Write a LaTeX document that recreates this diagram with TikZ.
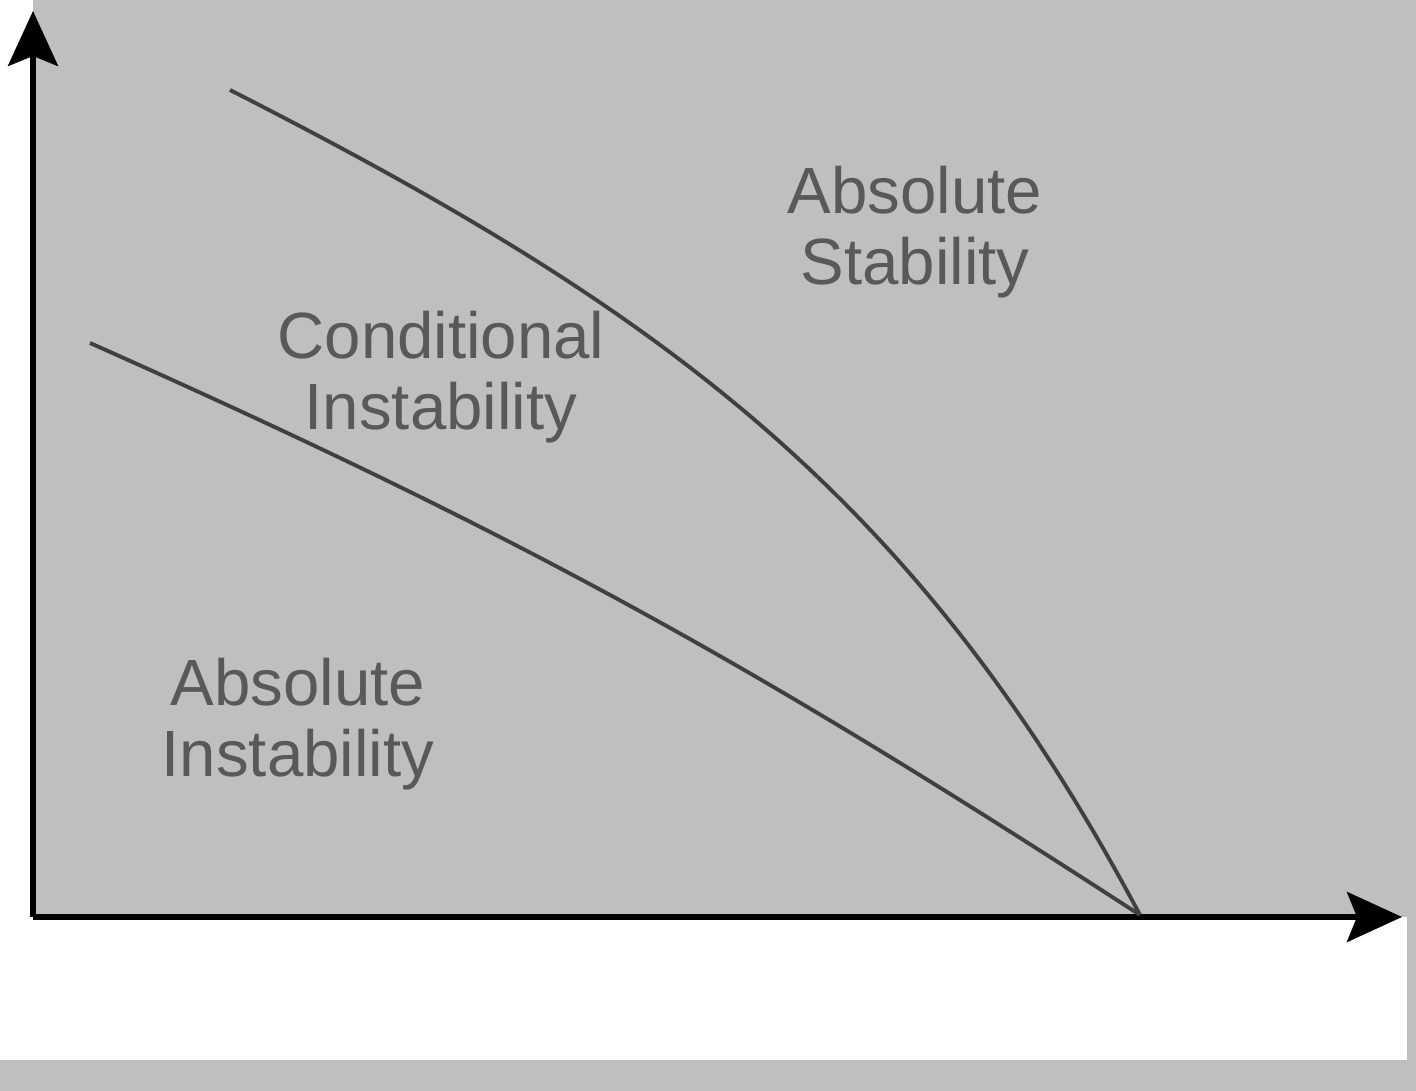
\documentclass[tikz,border=0pt]{standalone}
\usepackage{fontspec}
\setmainfont{Liberation Sans}
\usetikzlibrary{arrows.meta}

\tikzset{
  axis/.style={line width=1.5pt, -{Stealth[length=5.5mm,width=5mm,inset=1mm]}},
  border/.style={line width=1.1pt, black!75},
  region/.style={align=center, inner sep=0pt, text=black!65,
    font=\fontsize{18.6}{20}\selectfont}
}

\begin{document}
\begin{tikzpicture}

    % パラメータの定義
    \pgfmathsetmacro{\W}{14.16}
    \pgfmathsetmacro{\H}{10.91}
    \useasboundingbox (0,0) rectangle (\W,\H);

    % 背景の描画
    \fill [black!25] (0.33,1.74) rectangle (\W,\H);
    \fill [black!25] (0,0) rectangle (\W,0.31);
    \fill [black!25] (14.07,0.31) rectangle (\W,1.74);

    % 点の定義
    \coordinate (O) at (0.33,1.74);
    \coordinate (Y) at (0.33,10.80);
    \coordinate (X) at (14.02,1.74);
    \coordinate (E) at (11.40,1.76);
    \coordinate (S) at (2.30,10.01);
    \coordinate (U) at (0.90,7.48);

    % 軸の描画
    \draw [axis] (O) -- (Y);
    \draw [axis] (O) -- (X);

    % 境界線の描画
    \draw [border] (S) to[out=-27,in=118] (E);
    \draw [border] (U) to[out=-24,in=147] (E);

    % 領域の名前
    \node [region] (stab) at (9.15,8.59) {Absolute\\Stability};
    \node [region] (cond) at (4.41,7.14) {Conditional\\Instability};
    \node [region] (inst) at (2.98,3.67) {Absolute\\Instability};

\end{tikzpicture}
\end{document}
